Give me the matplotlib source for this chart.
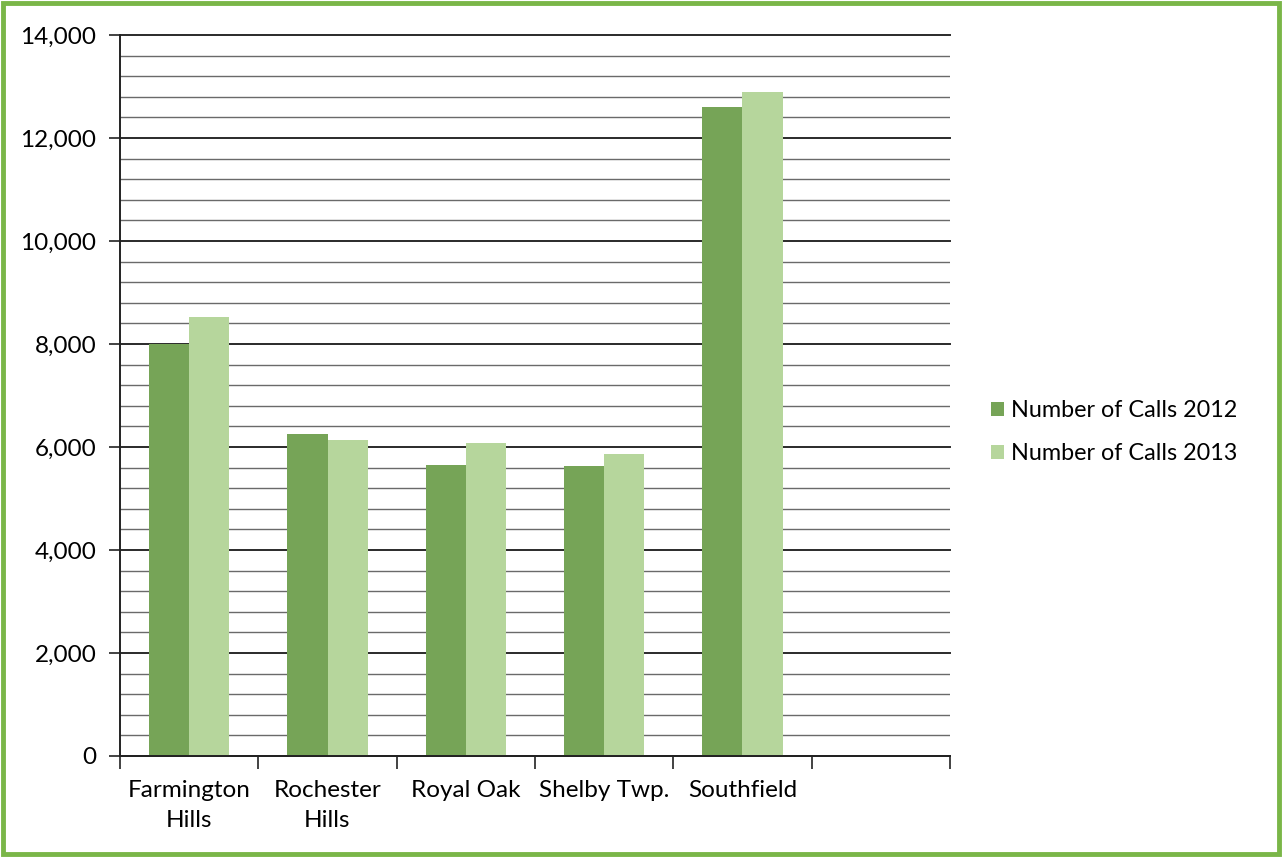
import numpy as np
import matplotlib.pyplot as plt
from matplotlib.patches import Rectangle
from matplotlib.ticker import MultipleLocator, FuncFormatter

cities = ["Farmington\nHills", "Rochester\nHills", "Royal Oak", "Shelby Twp.", "Southfield", ""]
calls_2012 = [8000, 6260, 5650, 5630, 12600]
calls_2013 = [8520, 6130, 6080, 5860, 12900]

dark_green = "#76a457"
light_green = "#b6d69c"
frame_green = "#7ab648"

plt.rcParams['font.family'] = ['Lato', 'DejaVu Sans']

fig = plt.figure(figsize=(12.83, 8.57), dpi=100)
ax = fig.add_axes([120 / 1283, 1 - 756 / 857, 830 / 1283, 721 / 857])

x = np.arange(len(calls_2012))
w = 0.29
ax.bar(x - w / 2, calls_2012, w, color=dark_green, label="Number of Calls 2012", zorder=3)
ax.bar(x + w / 2, calls_2013, w, color=light_green, label="Number of Calls 2013", zorder=3)

ax.set_xlim(-0.5, len(cities) - 0.5)
ax.set_ylim(0, 14000)

# category labels centered, tick marks on the boundaries
ax.set_xticks(np.arange(len(cities)))
ax.set_xticklabels(cities, fontsize=17.5, linespacing=1.55)
ax.tick_params(axis='x', which='major', length=0, pad=17)
ax.set_xticks(np.arange(len(cities) + 1) - 0.5, minor=True)
ax.tick_params(axis='x', which='minor', length=9, width=1.2, direction='out', color='#222222')

ax.yaxis.set_major_locator(MultipleLocator(2000))
ax.yaxis.set_minor_locator(MultipleLocator(400))
ax.yaxis.set_major_formatter(FuncFormatter(lambda v, p: f"{int(v):,}"))
ax.tick_params(axis='y', which='major', length=8, width=1.2, labelsize=17.5, pad=9, color='#222222')
ax.tick_params(axis='y', which='minor', length=0)

ax.grid(axis='y', which='major', color='#2a2a2a', linewidth=1.4, zorder=0)
ax.grid(axis='y', which='minor', color='#6a6a6a', linewidth=1.0, zorder=0)
for gl in ax.get_ygridlines():
    gl.set_clip_on(False)

for side in ['top', 'right']:
    ax.spines[side].set_visible(False)
for side in ['left', 'bottom']:
    ax.spines[side].set_color('#222222')
    ax.spines[side].set_linewidth(1.4)
    ax.spines[side].set_zorder(4)

ax.legend(loc='center left', bbox_to_anchor=(1.024, 0.449), frameon=False,
          fontsize=16.8, handlelength=0.55, handleheight=0.55, handletextpad=0.3,
          labelspacing=0.95)

fig.patches.append(Rectangle((0.002, 0.003), 0.995, 0.993, transform=fig.transFigure,
                             fill=False, edgecolor=frame_green, linewidth=3.5))

fig.savefig("out.png", dpi=100)
